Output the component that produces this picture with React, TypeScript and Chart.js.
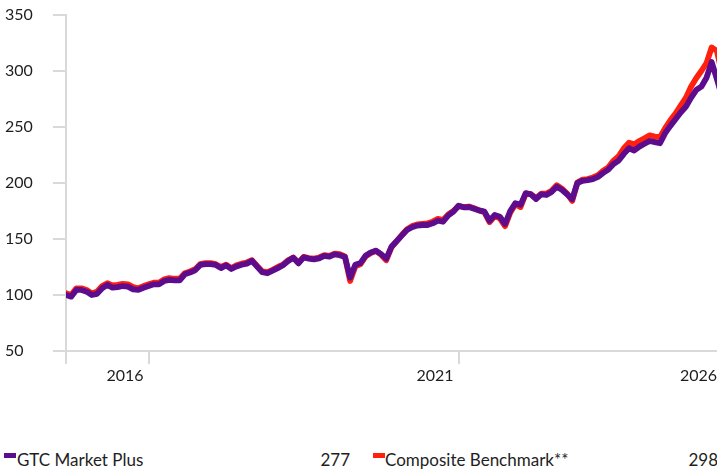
import React, { useEffect, useRef } from "react";
import { Chart, registerables } from "chart.js";

Chart.register(...registerables);

// Monthly index values (index 0 = start of series)
const gtcMarketPlus: number[] = [
  100, 98.5, 104.5, 104.5, 103, 100, 101, 106, 109, 106.5,
  107, 108, 107.5, 105, 104.5, 106.5, 108, 109.5, 109.5, 112.5,
  113.5, 113, 113, 118.5, 120, 122, 126.8, 127.5, 127.5, 126.8,
  124, 126.5, 123.2, 125.5, 127, 128, 130.5, 125.3, 120.3, 119.4,
  121.7, 124, 126.5, 130.4, 133.3, 128.3, 133.6, 132.5, 131.9, 132.7,
  135, 134.2, 136.3, 135.5, 134, 115.5, 127, 128.5, 135, 138,
  139.5, 136.5, 132.5, 143, 148, 153, 158, 160.5, 162, 162.5,
  162.5, 164, 166.3, 165.4, 171, 174.4, 179.7, 178.3, 178.5, 177,
  175.5, 174.4, 166.3, 171.4, 169.9, 163.4, 175, 182, 180.5, 191,
  189.8, 185.7, 189.8, 189.3, 192, 196.7, 194, 190, 185.5, 200,
  202, 202.5, 203.5, 205.5, 209, 212, 217, 220, 226, 231,
  229, 232.5, 235, 237.5, 236.5, 235.5, 244.5, 251, 257, 263,
  268, 276, 283, 286, 294, 308, 293, 277,
];

const compositeBenchmark: number[] = [
  101.5, 100, 106, 106, 104.5, 101.5, 103, 108, 110.5, 108.5,
  109, 110, 109.5, 107, 106, 108, 109.5, 111, 111, 114,
  115, 114.5, 114.5, 119.5, 121, 123, 127.5, 128.5, 128.5, 127.5,
  125, 127, 124, 126.5, 128, 129, 131, 126, 121, 120.5,
  122.5, 125, 127, 131, 133.5, 129, 134, 133, 132.5, 133.5,
  135.5, 135, 137, 136.5, 134.5, 112.5, 125.5, 127.5, 134.5, 137.5,
  139.5, 136, 131, 142.5, 148, 153.5, 158.5, 161.5, 163, 163.5,
  164, 165.5, 168, 167, 172, 175, 179.5, 178.5, 179, 177.5,
  175.5, 174, 165, 170.5, 168.5, 161.5, 173.5, 181, 178.5, 190.5,
  190, 186.5, 190.5, 190.5, 193, 198, 195, 190.5, 184, 200.5,
  203, 203.5, 205, 207, 211, 214, 220, 224, 231, 236,
  234.5, 237.5, 240, 242.5, 241.5, 241, 249, 256, 262, 269,
  276, 286, 293.5, 300, 307, 321, 318, 298,
];

const xTickIndex: number[] = [0, 16, 76, 127];
const xTickLabels: string[] = ["", "2016", "2021", "2026"];

const yMin = 50;
const yMax = 350;
const yStep = 50;

const seriesNames: string[] = ["GTC Market Plus", "Composite Benchmark**"];
const legendValues: string[] = ["277", "298"];

const PURPLE = "#5c0c8c";
const RED = "#ff2010";
const AXIS = "#d9d9d9";
const TEXT = "#1e1e1e";
const FONT = "Lato, 'Noto Sans', sans-serif";

export default function App() {
  const ref = useRef<HTMLCanvasElement>(null);

  useEffect(() => {
    if (!ref.current) return;
    const chart = new Chart(ref.current, {
      type: "line",
      data: {
        datasets: [
          {
            label: seriesNames[0],
            data: gtcMarketPlus.map((y, x) => ({ x, y })),
            borderColor: PURPLE,
            backgroundColor: PURPLE,
            borderWidth: 5.8,
            pointRadius: 0,
            tension: 0,
            borderJoinStyle: "round",
            borderCapStyle: "round",
          },
          {
            label: seriesNames[1],
            data: compositeBenchmark.map((y, x) => ({ x, y })),
            borderColor: RED,
            backgroundColor: RED,
            borderWidth: 5.8,
            pointRadius: 0,
            tension: 0,
            borderJoinStyle: "round",
            borderCapStyle: "round",
          },
        ],
      },
      options: {
        responsive: false,
        animation: false,
        events: [],
        layout: { padding: { left: 5, top: 15, right: 0, bottom: 0 } },
        plugins: {
          legend: { display: false },
          tooltip: { enabled: false },
        },
        scales: {
          x: {
            type: "linear",
            min: 0,
            max: gtcMarketPlus.length - 1,
            afterBuildTicks: (s: any) => {
              s.ticks = xTickIndex.map((v) => ({ value: v }));
            },
            afterFit: (s: any) => {
              s.height = 49;
            },
            ticks: {
              autoSkip: false,
              maxRotation: 0,
              minRotation: 0,
              align: "end",
              labelOffset: -5,
              padding: 2,
              color: TEXT,
              font: { family: FONT, size: 16 },
              callback: (_v: any, i: number) => xTickLabels[i] ?? "",
            },
            grid: {
              drawOnChartArea: false,
              drawTicks: true,
              tickLength: 13,
              color: AXIS,
              lineWidth: 2,
            },
            border: { display: true, color: AXIS, width: 2 },
          },
          y: {
            min: yMin,
            max: yMax,
            afterFit: (s: any) => {
              s.width = 61;
            },
            ticks: {
              stepSize: yStep,
              crossAlign: "far",
              color: TEXT,
              font: { family: FONT, size: 16 },
            },
            grid: {
              drawOnChartArea: false,
              drawTicks: true,
              tickLength: 13,
              color: AXIS,
              lineWidth: 2,
            },
            border: { display: true, color: AXIS, width: 2 },
          },
        },
      },
    });
    return () => chart.destroy();
  }, []);

  const textStyle: React.CSSProperties = {
    position: "absolute",
    top: 449.5,
    lineHeight: "20px",
    fontFamily: FONT,
    fontSize: 17,
    color: TEXT,
    whiteSpace: "nowrap",
  };

  return (
    <div
      style={{
        position: "absolute",
        left: 0,
        top: 0,
        width: 717,
        height: 469,
        overflow: "hidden",
        background: "#fff",
      }}
    >
      <canvas
        ref={ref}
        width={724}
        height={400}
        style={{ position: "absolute", left: 0, top: 0, width: 724, height: 400 }}
      />
      <div style={{ position: "absolute", left: 4, top: 452.5, width: 12, height: 5, background: PURPLE }} />
      <div style={{ ...textStyle, left: 17 }}>{seriesNames[0]}</div>
      <div style={{ ...textStyle, left: 250, width: 100, textAlign: "right" }}>{legendValues[0]}</div>
      <div style={{ position: "absolute", left: 372.5, top: 452.5, width: 12, height: 5, background: RED }} />
      <div style={{ ...textStyle, left: 385 }}>{seriesNames[1]}</div>
      <div style={{ ...textStyle, left: 618, width: 100, textAlign: "right" }}>{legendValues[1]}</div>
    </div>
  );
}
